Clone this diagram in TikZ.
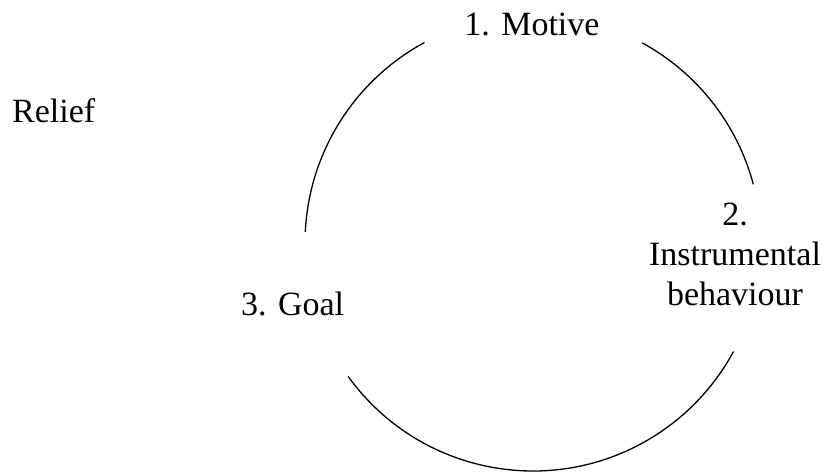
\documentclass[tikz,border=0pt]{standalone}
\usepackage{fontspec}
\setmainfont{Liberation Serif}
\begin{document}
\begin{tikzpicture}[x=1pt,y=-1pt,
  lbl/.style={inner sep=0pt,font=\fontsize{34}{40}\selectfont},
  cyc/.style={line width=1.3pt,black}]
\useasboundingbox (0,0) rectangle (827,472);
\coordinate (c) at (533,243);
\node[lbl,anchor=base] (motive) at (532,35) {1. Motive};
\node[lbl,anchor=base west] (relief) at (12,122) {Relief};
\node[lbl,anchor=base west] (goal) at (241,315) {3. Goal};
\node[lbl,anchor=base,align=center] (instr) at (735,305) {2.\\Instrumental\\behaviour};
\draw[cyc] (c) ++(-118.4:228) arc[start angle=-118.4,end angle=-177.2,radius=228];
\draw[cyc] (c) ++(-61.4:228) arc[start angle=-61.4,end angle=-14.9,radius=228];
\draw[cyc] (c) ++(144.2:228) arc[start angle=144.2,end angle=28.4,radius=228];
\end{tikzpicture}
\end{document}
